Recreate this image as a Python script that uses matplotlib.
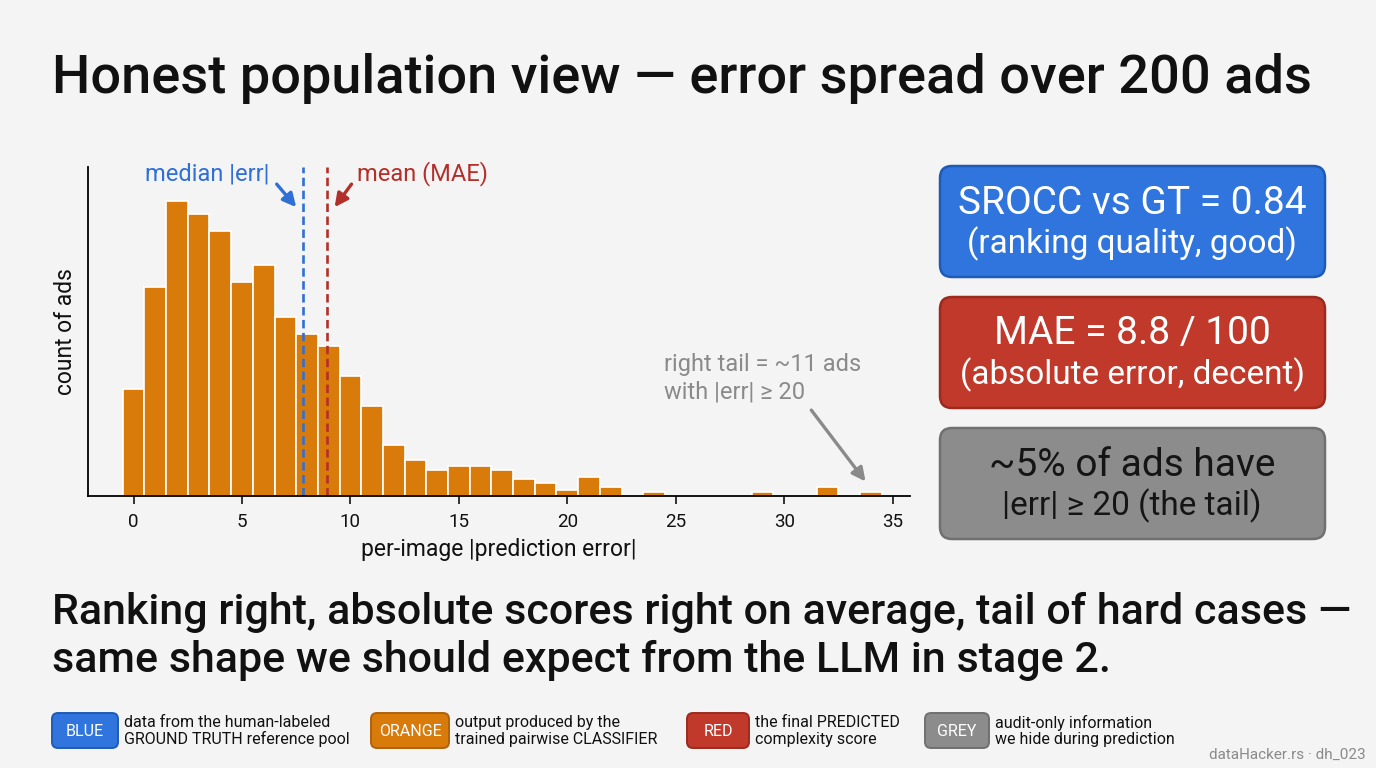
import numpy as np
import matplotlib.pyplot as plt
from matplotlib.patches import FancyBboxPatch

plt.rcParams['font.family'] = ['Roboto', 'DejaVu Sans']

# histogram of |prediction error| (1-unit bins, heights)
bin_centers = np.arange(0, 35)
counts = [25, 49, 69, 66, 62, 50, 54, 42, 38, 35, 28, 21, 12, 8.5, 6, 7,
          7, 6, 4, 3, 1.5, 4.5, 2, 0, 1, 0, 0, 0, 0, 1, 0, 0, 2, 0, 1]
median_err = 7.8
mean_err = 8.9
x_ticks = [0, 5, 10, 15, 20, 25, 30, 35]

# summary boxes
box_lines = [("SROCC vs GT = 0.84", "(ranking quality, good)"),
             ("MAE = 8.8 / 100", "(absolute error, decent)"),
             ("~5% of ads have", "|err| ≥ 20 (the tail)")]
box_colors = ["#2F75DD", "#C0392B", "#8C8C8C"]
box_edges = ["#1E5BB5", "#9C2A1F", "#707070"]
box_text_colors = ["white", "white", "#151515"]

# legend chips
legend_tags = ["BLUE", "ORANGE", "RED", "GREY"]
legend_colors = ["#2F75DD", "#D97B0B", "#C0392B", "#8C8C8C"]
legend_edges = ["#1E5BB5", "#B0620A", "#9C2A1F", "#707070"]
legend_desc = ["data from the human-labeled\nGROUND TRUTH reference pool",
               "output produced by the\ntrained pairwise CLASSIFIER",
               "the final PREDICTED\ncomplexity score",
               "audit-only information\nwe hide during prediction"]

BG = "#F4F4F4"
ORANGE = "#D97B0B"
BLUE = "#2F6FD6"
RED = "#B3302A"
GREY = "#8A8A8A"

fig = plt.figure(figsize=(13.76, 7.68), dpi=100, facecolor=BG)

# overlay in pixel coords for text and boxes
ov = fig.add_axes([0, 0, 1, 1], zorder=0)
ov.set_xlim(0, 1376)
ov.set_ylim(768, 0)
ov.axis("off")

ov.text(52, 78, "Honest population view — error spread over 200 ads",
        fontsize=39, weight="medium", color="#111111", va="center", ha="left")

# histogram
ax = fig.add_axes([88 / 1376, 1 - 496 / 768, (910 - 88) / 1376, (496 - 167) / 768], zorder=2)
ax.set_facecolor("none")
ax.bar(bin_centers, counts, width=1.0, color=ORANGE, edgecolor="white", linewidth=1.2)
ax.set_xlim(-2.1, 35.8)
ax.set_ylim(0, 77)
ax.set_xticks(x_ticks)
ax.tick_params(axis="x", labelsize=13.5, length=6, width=1.2, colors="#111111", pad=6)
ax.set_yticks([])
for s in ["top", "right"]:
    ax.spines[s].set_visible(False)
ax.spines["left"].set_linewidth(1.3)
ax.spines["bottom"].set_linewidth(1.3)
ax.set_xlabel("per-image |prediction error|", fontsize=16.5, color="#111111", labelpad=5)
ax.set_ylabel("count of ads", fontsize=16.5, color="#111111", labelpad=8)

ax.axvline(median_err, color=BLUE, ls=(0, (3.2, 1.7)), lw=1.9)
ax.axvline(mean_err, color=RED, ls=(0, (3.2, 1.7)), lw=1.9)

arrow_kw = dict(arrowstyle="-|>", lw=2.4, mutation_scale=20, shrinkA=0, shrinkB=0)
ax.text(6.27, 75.4, "median |err|", fontsize=17, color=BLUE, ha="right", va="center")
ax.annotate("", xy=(7.5, 67.6), xytext=(6.6, 73.0),
            arrowprops=dict(color=BLUE, **arrow_kw))
ax.text(10.3, 75.4, "mean (MAE)", fontsize=17, color=RED, ha="left", va="center")
ax.annotate("", xy=(9.27, 67.6), xytext=(10.05, 73.0),
            arrowprops=dict(color=RED, **arrow_kw))

ax.text(24.45, 27.6, "right tail = ~11 ads\nwith |err| ≥ 20", fontsize=17, color=GREY,
        ha="left", va="center", linespacing=1.25)
ax.annotate("", xy=(33.75, 3.4), xytext=(31.25, 20.1),
            arrowprops=dict(color=GREY, **arrow_kw))

# summary boxes
box_tops = [166, 297, 428]
for (l1, l2), fc, ec, tc, y0 in zip(box_lines, box_colors, box_edges, box_text_colors, box_tops):
    ov.add_patch(FancyBboxPatch((940, y0), 385, 111,
                                boxstyle="round,pad=0,rounding_size=12",
                                fc=fc, ec=ec, lw=1.8))
    ov.text(1132, y0 + 37, l1, fontsize=28, color=tc, ha="center", va="center")
    ov.text(1132, y0 + 78, l2, fontsize=24, color=tc, ha="center", va="center")

# takeaway
ov.text(52, 612, "Ranking right, absolute scores right on average, tail of hard cases —",
        fontsize=31, weight="medium", color="#111111", ha="left", va="center")
ov.text(52, 660, "same shape we should expect from the LLM in stage 2.",
        fontsize=31, weight="medium", color="#111111", ha="left", va="center")

# legend
chip_x = [52, 371, 687, 925]
chip_w = [66, 78, 62, 64]
for tag, fc, ec, desc, x0, w in zip(legend_tags, legend_colors, legend_edges,
                                    legend_desc, chip_x, chip_w):
    ov.add_patch(FancyBboxPatch((x0, 713), w, 35,
                                boxstyle="round,pad=0,rounding_size=6",
                                fc=fc, ec=ec, lw=1.4))
    ov.text(x0 + w / 2, 731, tag, fontsize=11.5, color="white", ha="center", va="center")
    ov.text(x0 + w + 6, 731, desc, fontsize=11.5, color="#111111", ha="left", va="center",
            linespacing=1.1)

ov.text(1366, 755, "dataHacker.rs · dh_023", fontsize=11, color="#8A8A8A",
        ha="right", va="center")

fig.savefig("out.png", dpi=100, facecolor=BG)
